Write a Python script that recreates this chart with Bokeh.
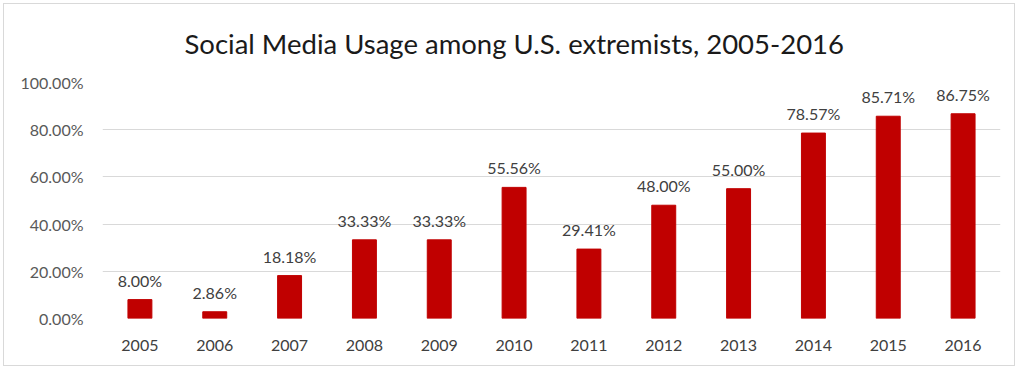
from bokeh.plotting import figure
from bokeh.models import ColumnDataSource, Range1d, PrintfTickFormatter, FactorRange
from bokeh.core.properties import value
from bokeh.embed import file_html
from bokeh.resources import INLINE

years = ["2005", "2006", "2007", "2008", "2009", "2010", "2011", "2012", "2013", "2014", "2015", "2016"]
usage_pct = [8.00, 2.86, 18.18, 33.33, 33.33, 55.56, 29.41, 48.00, 55.00, 78.57, 85.71, 86.75]
title_text = "Social Media Usage among U.S. extremists, 2005-2016"

FONT = "Lato"

labels = [f"{v:.2f}%" for v in usage_pct]
src = ColumnDataSource(dict(year=years, val=usage_pct, lab=labels))

p = figure(width=1012, height=363, x_range=FactorRange(*years), y_range=Range1d(0, 100),
           output_backend="svg", toolbar_location=None,
           min_border_left=98, min_border_right=16, min_border_top=78, min_border_bottom=49)
p.styles = {"border": "1px solid #d9d9d9", "margin-left": "3px", "margin-top": "3px"}
p.outline_line_color = None
p.background_fill_color = "white"
p.border_fill_color = "white"

p.title.text = title_text
p.title.align = "left"
p.title.offset = 82
p.title.vertical_align = "top"
p.title.standoff = 41
p.title.text_font = FONT
p.title.text_font_size = "27.5px"
p.title.text_font_style = "normal"
p.title.text_color = "#1a1a1a"

p.vbar(x="year", top="val", width=0.32, source=src, fill_color="#C00000", line_color="#C00000")
p.text(x="year", y="val", text="lab", source=src, text_align="center", text_baseline="bottom",
       y_offset=-10, text_font=value(FONT), text_font_size="16px", text_color="#404040")

p.xgrid.grid_line_color = None
p.ygrid.grid_line_color = "#d9d9d9"
p.ygrid.grid_line_width = 1

p.yaxis.ticker = [0, 20, 40, 60, 80, 100]
p.yaxis.formatter = PrintfTickFormatter(format="%.2f%%")
for ax in (p.xaxis, p.yaxis):
    ax.axis_line_color = None
    ax.major_tick_line_color = None
    ax.minor_tick_line_color = None
    ax.major_tick_out = 0
    ax.major_tick_in = 0
    ax.major_label_text_font = FONT
    ax.major_label_text_font_size = "16px"
p.yaxis.major_label_text_color = "#595959"
p.yaxis.major_label_standoff = 19
p.xaxis.major_label_text_color = "#404040"
p.xaxis.major_label_standoff = 21

open("out.html", "w").write(file_html(p, INLINE))
